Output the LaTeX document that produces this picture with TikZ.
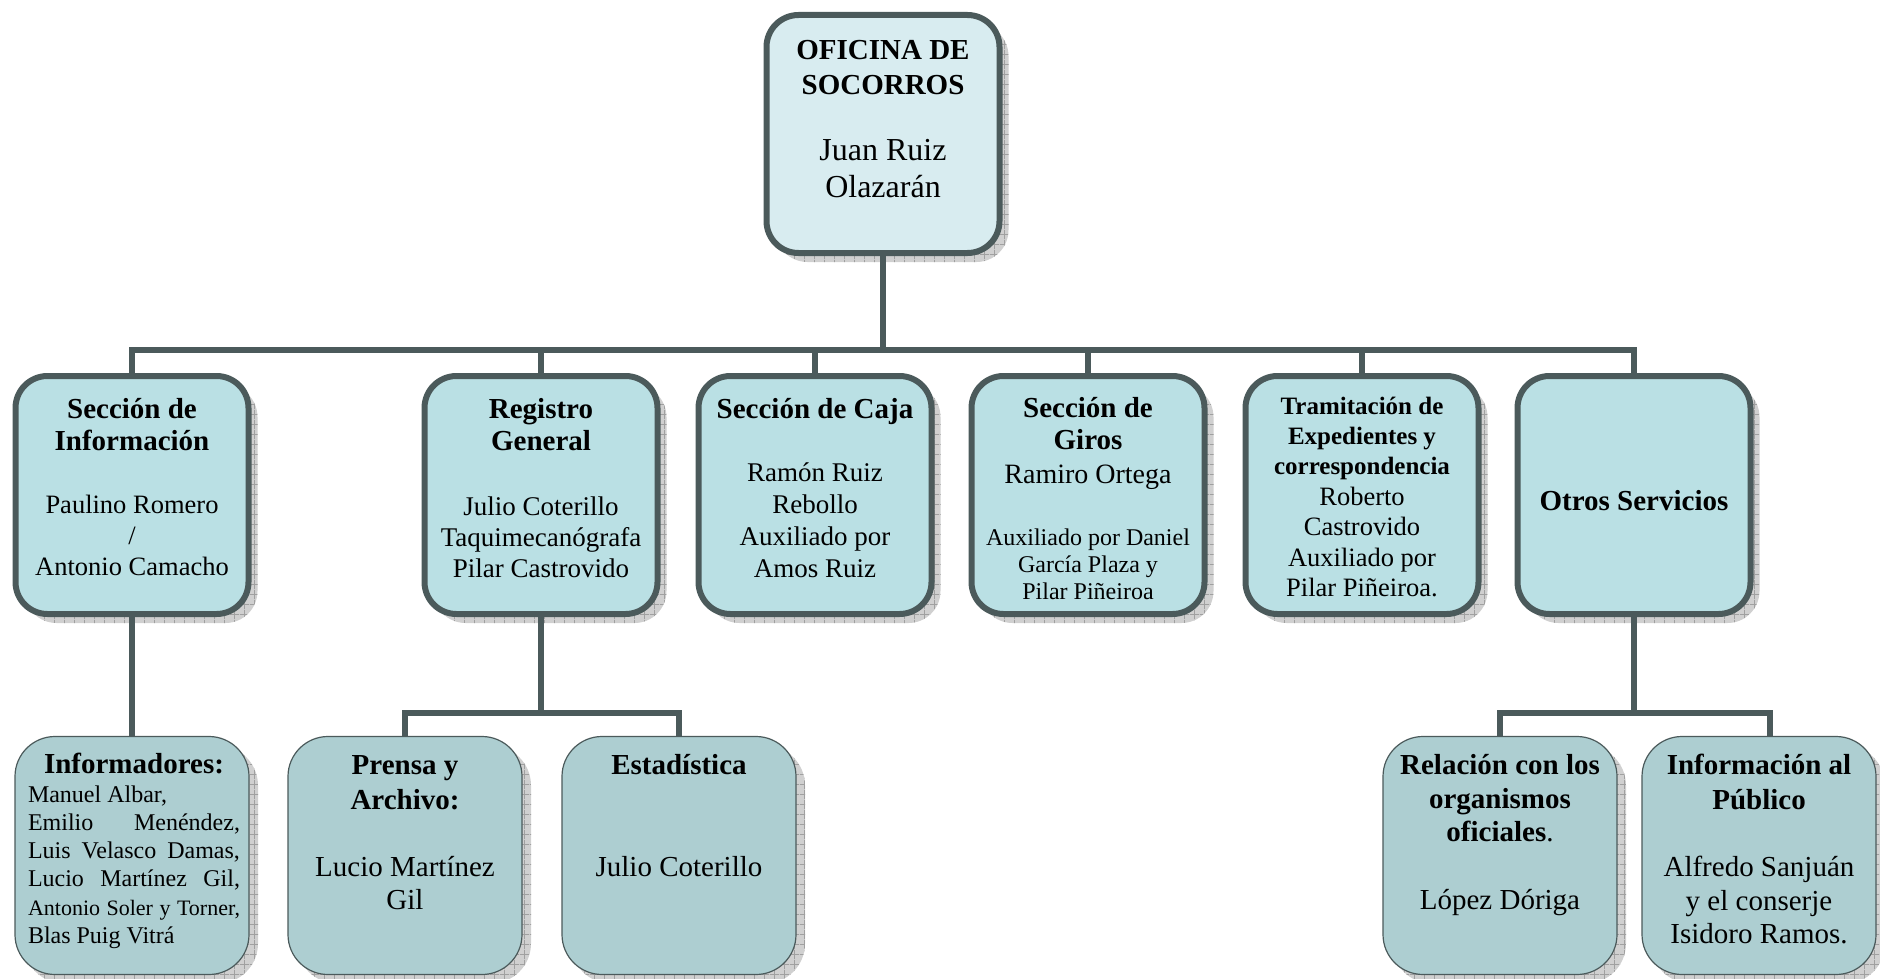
\documentclass[tikz,border=0pt]{standalone}
\usepackage{fontspec}
\setmainfont{Liberation Serif}
\usetikzlibrary{shadows,patterns.meta}

\definecolor{linec}{RGB}{75,90,91}
\definecolor{fillA}{RGB}{216,236,240}
\definecolor{fillB}{RGB}{186,224,228}
\definecolor{fillC}{RGB}{173,206,209}
\definecolor{shadefill}{RGB}{208,208,208}
\definecolor{shadeline}{RGB}{160,160,160}

\newcommand{\fs}[2]{\fontsize{#1}{#2}\selectfont}
% centred text block of a given width
\newcommand{\blk}[2]{\parbox{#1}{\centering #2\par}}

% grid used inside the box shadows
\tikzdeclarepattern{
  name=shadegrid,
  type=uncolored,
  bottom left={(0pt,0pt)},
  top right={(10pt,10pt)},
  tile size={(10pt,10pt)},
  code={\draw[line width=0.8pt] (0pt,5pt) -- (10pt,5pt) (5pt,0pt) -- (5pt,10pt);}
}

\tikzset{
  boxshadow/.style={
    general shadow={fill=shadefill, shadow xshift=9pt, shadow yshift=-9pt},
    general shadow={pattern=shadegrid, pattern color=shadeline, shadow xshift=9pt, shadow yshift=-9pt}},
  lvlA/.style={boxshadow, draw=linec, line width=6pt, fill=fillA, rounded corners=32pt,
    minimum width=233pt, minimum height=238pt, inner sep=0pt},
  lvlB/.style={boxshadow, draw=linec, line width=6pt, fill=fillB, rounded corners=32pt,
    minimum width=233pt, minimum height=238pt, inner sep=0pt},
  lvlC/.style={boxshadow, draw=linec, line width=1.2pt, fill=fillC, rounded corners=40pt,
    minimum width=234pt, minimum height=238pt, inner sep=0pt},
  txt/.style={inner sep=0pt},
  conn/.style={draw=linec, line width=6pt},
}

\begin{document}
\begin{tikzpicture}[x=1pt,y=-1pt]
\useasboundingbox (0,0) rectangle (1880,979);

% boxes
\node[lvlA] (top) at (883,134) {};
\node[lvlB] (s1) at (132,495) {};
\node[lvlB] (s2) at (541,495) {};
\node[lvlB] (s3) at (815,495) {};
\node[lvlB] (s4) at (1088,495) {};
\node[lvlB] (s5) at (1362,495) {};
\node[lvlB] (s6) at (1634,495) {};
\node[lvlC] (b1) at (132,855.5) {};
\node[lvlC] (b2) at (405,855.5) {};
\node[lvlC] (b3) at (679,855.5) {};
\node[lvlC] (b4) at (1500,855.5) {};
\node[lvlC] (b5) at (1759,855.5) {};

% connectors
\coordinate (bus) at (0,350);
\coordinate (subbus) at (0,713);
\coordinate (b5top) at ([xshift=11pt]b5.north);
\draw[conn] (top.south) -- (top.south |- bus);
\draw[conn] (s1.north) -- (s1.north |- bus) -- (s6.north |- bus) -- (s6.north);
\foreach \n in {s2,s3,s4,s5} \draw[conn] (\n.north) -- (\n.north |- bus);
\draw[conn] (s1.south) -- (b1.north);
\draw[conn] (s2.south) -- (s2.south |- subbus);
\draw[conn] (b2.north) -- (b2.north |- subbus) -- (b3.north |- subbus) -- (b3.north);
\draw[conn] (s6.south) -- (s6.south |- subbus);
\draw[conn] (b4.north) -- (b4.north |- subbus) -- (b5top |- subbus) -- (b5top);

% texts
\node[txt] (top-t) at (883,119) {\blk{230pt}{\fs{29}{35}\bfseries OFICINA DE\\SOCORROS\par
  \vspace{29.5pt}\fs{32}{36.5}\mdseries Juan Ruiz\\Olazarán}};

\node[txt] (s1-t) at (132,487) {\blk{230pt}{\fs{29}{32}\bfseries Sección de\\Información\par
  \vspace{32pt}\fs{26.5}{31}\mdseries Paulino Romero\\/\\Antonio Camacho}};
\node[txt] (s2-t) at (541,488) {\blk{230pt}{\fs{29}{32}\bfseries Registro\\General\par
  \vspace{34pt}\fs{27}{31}\mdseries Julio Coterillo\\Taquimecanógrafa\\Pilar Castrovido}};
\node[txt] (s3-t) at (815,488) {\blk{230pt}{\fs{29}{32}\bfseries Sección de Caja\par
  \vspace{31pt}\fs{27}{32}\mdseries Ramón Ruiz\\Rebollo\\Auxiliado por\\Amos Ruiz}};
\node[txt] (s4-t) at (1088,499) {\blk{230pt}{\fs{29}{32}\bfseries Sección de\\Giros\par
  \fs{28}{34}\mdseries Ramiro Ortega\par
  \vspace{35pt}\fs{24}{27}Auxiliado por Daniel\\García Plaza y\\Pilar Piñeiroa}};
\node[txt] (s5-t) at (1362,497) {\blk{230pt}{\fs{25}{30}\bfseries Tramitación de\\Expedientes y\\correspondencia\par
  \fs{26.5}{30.5}\mdseries Roberto\\Castrovido\\Auxiliado por\\Pilar Piñeiroa.}};
\node[txt] (s6-t) at (1634,500.7) {\blk{230pt}{\fs{29}{32}\bfseries Otros Servicios}};

\node[txt] (b1-t) at (134,851) {\parbox{212pt}{\fs{29}{30}\bfseries\makebox[212pt][c]{Informadores:}\par
  \fs{24}{28.3}\mdseries\noindent
  \makebox[212pt][l]{Manuel Albar,}\\
  \makebox[212pt][s]{Emilio Menéndez,}\\
  \makebox[212pt][s]{Luis Velasco Damas,}\\
  \makebox[212pt][s]{Lucio Martínez Gil,}\\
  \makebox[212pt][s]{\fs{22}{28.3}Antonio Soler y Torner,}\\
  \makebox[212pt][l]{Blas Puig Vitrá}\par}};
\node[txt] (b2-t) at (405,832.5) {\blk{230pt}{\fs{29}{35}\bfseries Prensa y\\Archivo:\par
  \vspace{34pt}\fs{29}{33}\mdseries Lucio Martínez\\Gil}};
\node[txt] (b3-t) at (679,816) {\blk{230pt}{\fs{29}{33}\bfseries Estadística\par
  \vspace{69pt}\mdseries Julio Coterillo}};
\node[txt] (b4-t) at (1500,835.5) {\blk{230pt}{\fs{29}{33.5}\bfseries Relación con los\\organismos\\oficiales\mdseries.\par
  \vspace{35pt}\fs{29}{33}López Dóriga}};
\node[txt] (b5-t) at (1759,849) {\blk{230pt}{\fs{29}{35}\bfseries Información al\\Público\par
  \vspace{34pt}\fs{29}{33.5}\mdseries Alfredo Sanjuán\\y el conserje\\Isidoro Ramos.}};
\end{tikzpicture}
\end{document}
